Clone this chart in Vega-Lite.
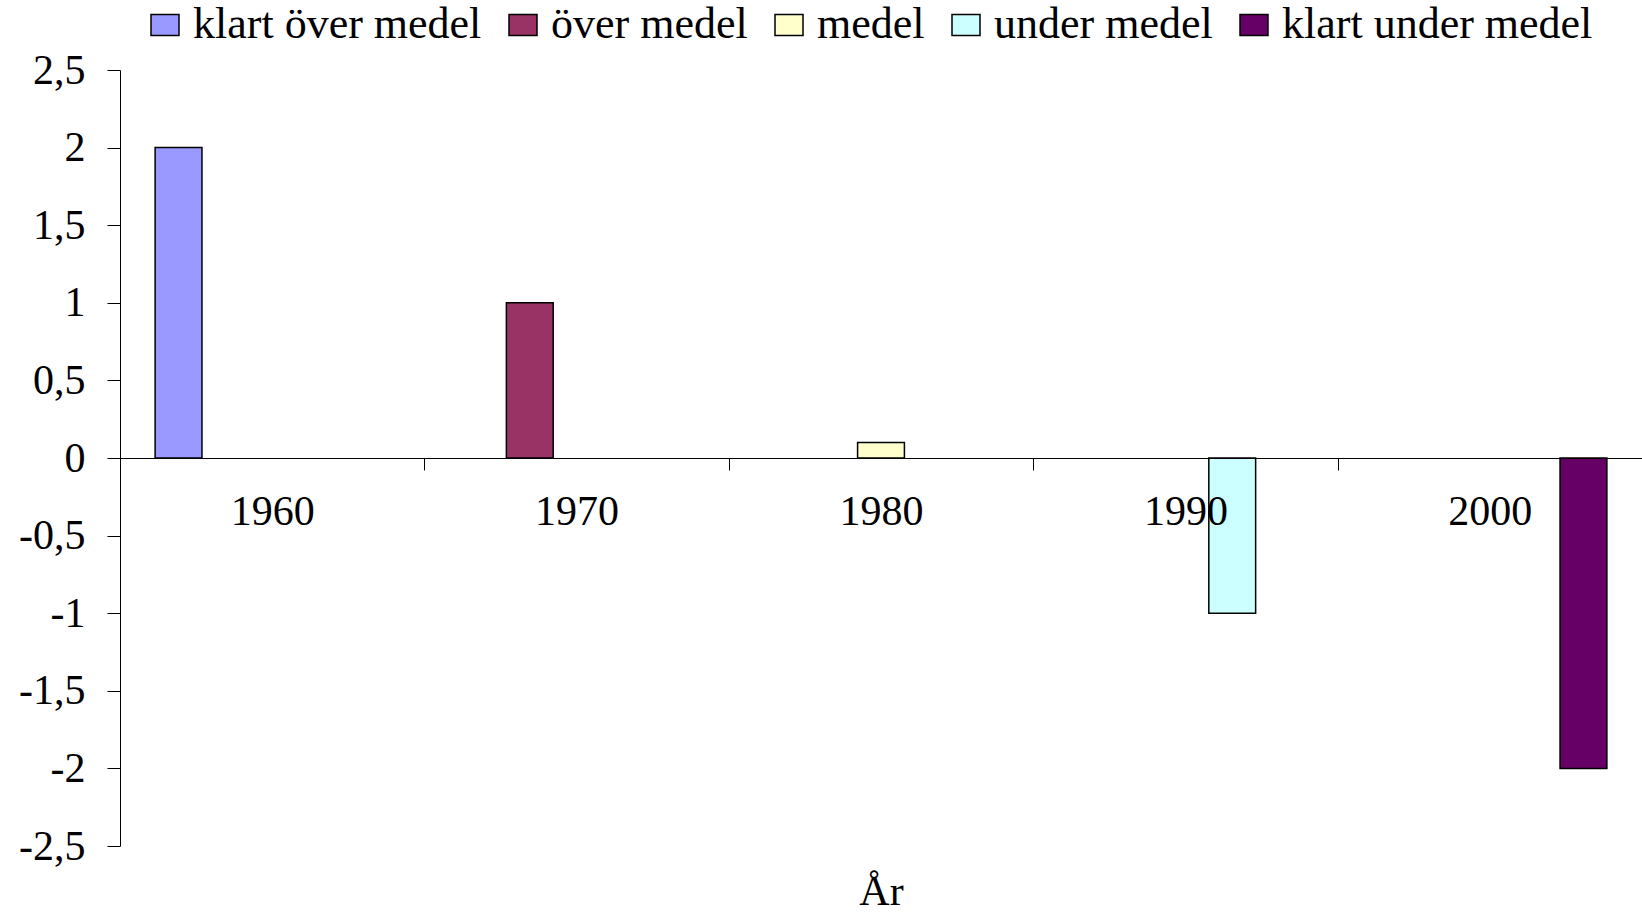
{
  "$schema": "https://vega.github.io/schema/vega-lite/v6.json",
  "autosize": "none",
  "padding": {"left": 120, "top": 70, "right": 0, "bottom": 67},
  "width": 1522,
  "height": 776,
  "background": "white",
  "config": {
    "view": {"stroke": null},
    "font": "Liberation Serif",
    "axis": {
      "labelFont": "Liberation Serif",
      "titleFont": "Liberation Serif",
      "labelColor": "#000",
      "titleColor": "#000",
      "domainColor": "#000",
      "tickColor": "#000",
      "grid": false
    }
  },
  "data": {
    "values": [
      {"year": "1960", "series": "klart över medel", "value": 2},
      {"year": "1970", "series": "över medel", "value": 1},
      {"year": "1980", "series": "medel", "value": 0.1},
      {"year": "1990", "series": "under medel", "value": -1},
      {"year": "2000", "series": "klart under medel", "value": -2}
    ]
  },
  "mark": {"type": "bar", "stroke": "#000", "strokeWidth": 1.5, "opacity": 1},
  "encoding": {
    "x": {
      "field": "year",
      "type": "ordinal",
      "scale": {"paddingInner": 0, "paddingOuter": 0},
      "axis": {
        "title": "År",
        "titleFontSize": 42,
        "titleFontWeight": "normal",
        "titleBaseline": "alphabetic",
        "titleY": 446,
        "offset": -388,
        "zindex": 1,
        "labelAngle": 0,
        "labelFontSize": 42,
        "labelBaseline": "alphabetic",
        "labelPadding": 54,
        "labelOverlap": false,
        "labelBound": false,
        "tickBand": "extent",
        "tickSize": 12,
        "domainWidth": 1,
        "tickWidth": 1
      }
    },
    "xOffset": {
      "field": "series",
      "type": "nominal",
      "scale": {
        "domain": ["klart över medel", "över medel", "medel", "under medel", "klart under medel"],
        "paddingInner": 0,
        "paddingOuter": 0.75
      }
    },
    "y": {
      "field": "value",
      "type": "quantitative",
      "scale": {"domain": [-2.5, 2.5], "nice": false},
      "axis": {
        "title": null,
        "values": [-2.5, -2, -1.5, -1, -0.5, 0, 0.5, 1, 1.5, 2, 2.5],
        "labelExpr": "replace(toString(datum.value), '.', ',')",
        "labelFontSize": 42,
        "labelPadding": 22,
        "labelDy": 3,
        "tickSize": 13,
        "tickWidth": 1,
        "domainWidth": 1
      }
    },
    "fill": {
      "field": "series",
      "type": "nominal",
      "scale": {
        "domain": ["klart över medel", "över medel", "medel", "under medel", "klart under medel"],
        "range": ["#9999FF", "#993366", "#FFFFCC", "#CCFFFF", "#660066"]
      },
      "legend": {
        "title": null,
        "orient": "none",
        "direction": "horizontal",
        "legendX": 23,
        "legendY": -67,
        "labelFont": "Liberation Serif",
        "labelFontSize": 44,
        "labelColor": "#000",
        "labelLimit": 1000,
        "labelOffset": 6,
        "columnPadding": 19,
        "symbolType": "M-1,-0.75H1V0.75H-1Z",
        "symbolSize": 784,
        "symbolStrokeColor": "#000",
        "symbolStrokeWidth": 1.5,
        "symbolOpacity": 1
      }
    }
  }
}
